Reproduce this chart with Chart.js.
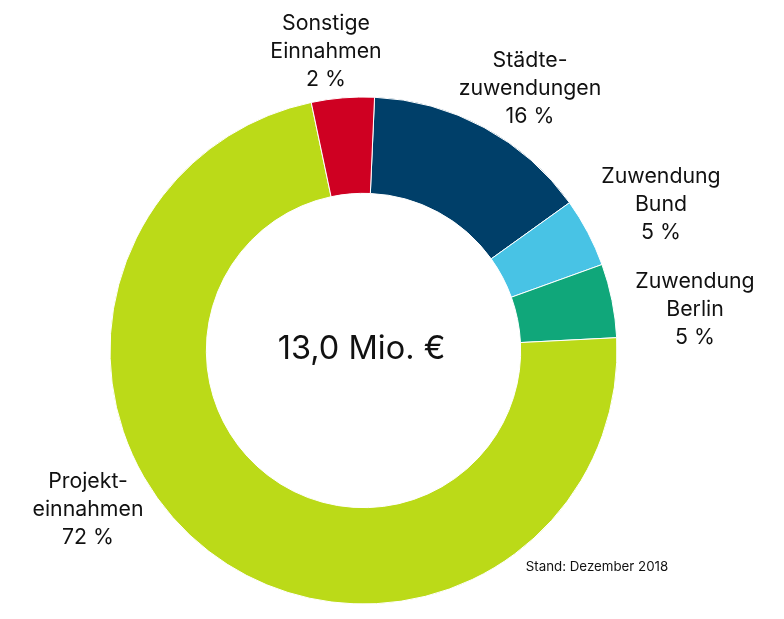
<!DOCTYPE html>
<html lang="de">
<head>
<meta charset="utf-8">
<title>Einnahmen 2018</title>
<script src="https://cdn.jsdelivr.net/npm/chart.js@4/dist/chart.umd.min.js"></script>
<style>
  html, body { margin: 0; padding: 0; background: #fff; }
  #wrap { position: relative; width: 784px; height: 619px; }
</style>
</head>
<body>
<div id="wrap"><canvas id="einnahmen"></canvas></div>
<script>
// Anteile wie im Ring gezeichnet (Prozent, im Uhrzeigersinn ab 12 Uhr)
const kategorien = ['Städtezuwendungen', 'Zuwendung Bund', 'Zuwendung Berlin', 'Projekteinnahmen', 'Sonstige Einnahmen'];
const anteile = [14.4, 4.4, 4.7, 72.5, 4.0];
// Beschriftungen aus der Grafik
const beschriftungen = [
  ['Städte-', 'zuwendungen', '16 %'],
  ['Zuwendung', 'Bund', '5 %'],
  ['Zuwendung', 'Berlin', '5 %'],
  ['Projekt-', 'einnahmen', '72 %'],
  ['Sonstige', 'Einnahmen', '2 %']
];
const farben = ['#003f69', '#48c3e5', '#10a77a', '#bbda18', '#cf0022'];
const summeText = '13,0 Mio. €';
const standText = 'Stand: Dezember 2018';

// Lage der Texte (Mitte, Grundlinie der ersten Zeile)
const textPos = [
  [530, 67], [661, 183], [695, 288], [88, 488], [326, 30]
];

const FONT = 'Inter, Roboto, sans-serif';

const textPlugin = {
  id: 'texte',
  afterDraw(chart) {
    const ctx = chart.ctx;
    const meta = chart.getDatasetMeta(0);
    const arc = meta.data[0];
    ctx.save();
    ctx.fillStyle = '#111';
    ctx.textAlign = 'center';
    ctx.textBaseline = 'alphabetic';

    // Mitte
    ctx.font = '32.5px ' + FONT;
    ctx.fillText(summeText, arc.x - 2, arc.y + 8);

    // Segmentbeschriftungen
    ctx.font = '21.3px ' + FONT;
    beschriftungen.forEach((zeilen, i) => {
      const [x, y] = textPos[i];
      zeilen.forEach((z, j) => ctx.fillText(z, x, y + j * 28));
    });

    ctx.font = '13.3px ' + FONT;
    ctx.fillText(standText, 597, 571);
    ctx.restore();
  }
};

new Chart(document.getElementById('einnahmen').getContext('2d'), {
  type: 'doughnut',
  data: {
    labels: kategorien,
    datasets: [{
      data: anteile,
      backgroundColor: farben,
      borderColor: '#ffffff',
      borderWidth: 1
    }]
  },
  options: {
    responsive: true,
    maintainAspectRatio: false,
    animation: false,
    rotation: 2.5,
    cutout: '62%',
    layout: { padding: { left: 109.5, top: 96.5, right: 166.5, bottom: 14.5 } },
    plugins: {
      legend: { display: false },
      tooltip: { enabled: false }
    }
  },
  plugins: [textPlugin]
});
</script>
</body>
</html>
